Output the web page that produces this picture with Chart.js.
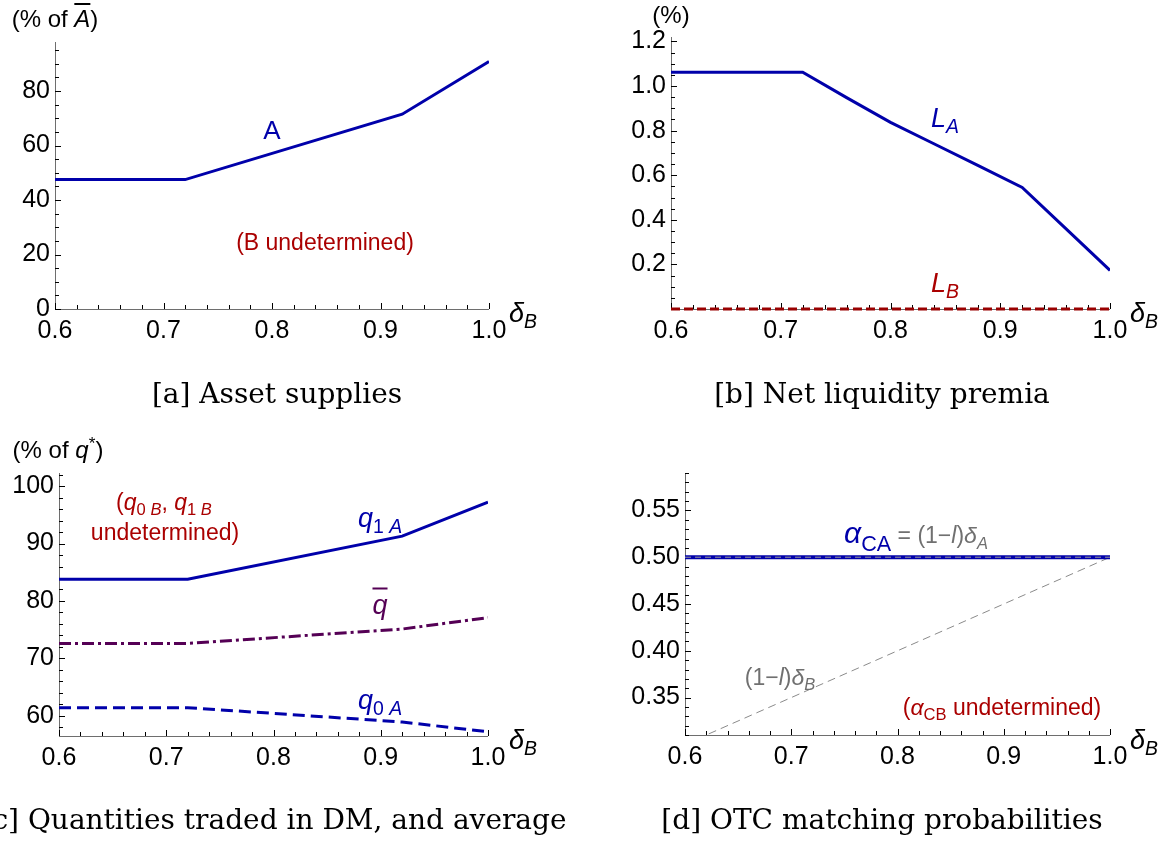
<!DOCTYPE html>
<html>
<head>
<meta charset="utf-8">
<script src="https://cdn.jsdelivr.net/npm/chart.js@4.4.1/dist/chart.umd.min.js"></script>
<style>
  html, body { margin: 0; padding: 0; background: #fff; width: 1167px; height: 844px; overflow: hidden; }
  canvas { position: absolute; left: 0; top: 0; }
  .lbl { position: absolute; transform: translate(-50%, -50%); white-space: nowrap;
         font-family: 'Liberation Sans', Arial, sans-serif; font-size: 25px; line-height: 1; color: #000; }
  .cap { position: absolute; transform: translate(-50%, -50%); white-space: nowrap;
         font-family: 'DejaVu Serif', serif; font-size: 28px; line-height: 1; color: #000; }
  .blue { color: #0000aa; }
  .red { color: #aa0000; }
  .gray { color: #707070; }
  .purple { color: #550055; }
  sub { font-size: 0.72em; vertical-align: -0.35em; line-height: 0; }
  sup { font-size: 0.72em; vertical-align: 0.5em; line-height: 0; }
  .bar { text-decoration: overline; }
</style>
</head>
<body>
<canvas id="panelA" width="1167" height="844"></canvas>
<canvas id="panelB" width="1167" height="844"></canvas>
<canvas id="panelC" width="1167" height="844"></canvas>
<canvas id="panelD" width="1167" height="844"></canvas>

<!-- [a] labels -->
<div class="lbl" style="left:55px;top:19px;font-size:24px">(% of <i class="bar">A</i>)</div>
<div class="lbl blue" style="left:272px;top:130px;font-size:26px">A</div>
<div class="lbl red" style="left:325px;top:242px;font-size:23px">(B undetermined)</div>
<div class="lbl" style="left:523px;top:313px;font-size:27px"><i>δ<sub>B</sub></i></div>

<!-- [b] labels -->
<div class="lbl" style="left:671px;top:15px;font-size:24px">(%)</div>
<div class="lbl blue" style="left:945px;top:118px;font-size:27px"><i>L<sub>A</sub></i></div>
<div class="lbl red" style="left:945px;top:283px;font-size:27px"><i>L<sub>B</sub></i></div>
<div class="lbl" style="left:1144px;top:313px;font-size:27px"><i>δ<sub>B</sub></i></div>

<!-- [c] labels -->
<div class="lbl" style="left:58px;top:450px;font-size:24px">(% of <i>q</i><sup>*</sup>)</div>
<div class="lbl red" style="left:164px;top:502px;font-size:23px">(<i>q</i><sub>0 <i>B</i></sub>, <i>q</i><sub>1 <i>B</i></sub></div>
<div class="lbl red" style="left:165px;top:532px;font-size:23px">undetermined)</div>
<div class="lbl blue" style="left:380px;top:518px;font-size:27px"><i>q</i><sub>1 <i>A</i></sub></div>
<div class="lbl purple" style="left:380px;top:605px;font-size:27px"><i class="bar">q</i></div>
<div class="lbl blue" style="left:380px;top:700px;font-size:27px"><i>q</i><sub>0 <i>A</i></sub></div>
<div class="lbl" style="left:523px;top:740px;font-size:27px"><i>δ<sub>B</sub></i></div>

<!-- [d] labels -->
<div class="lbl" style="left:916px;top:533px"><span class="blue" style="font-size:30px"><i>α</i><sub>CA</sub></span><span class="gray" style="font-size:23px"> = (1−<i>l</i>)<i>δ<sub>A</sub></i></span></div>
<div class="lbl gray" style="left:780px;top:677px;font-size:23px">(1−<i>l</i>)<i>δ<sub>B</sub></i></div>
<div class="lbl red" style="left:1002px;top:707px;font-size:23px">(<i>α</i><sub>CB</sub> undetermined)</div>
<div class="lbl" style="left:1144px;top:740px;font-size:27px"><i>δ<sub>B</sub></i></div>

<!-- captions -->
<div class="cap" style="left:277px;top:394px">[a] Asset supplies</div>
<div class="cap" style="left:882px;top:394px">[b] Net liquidity premia</div>
<div class="cap" style="left:274px;top:820px">[c] Quantities traded in DM, and average</div>
<div class="cap" style="left:882px;top:820px">[d] OTC matching probabilities</div>

<script>
// x values (delta_B) and series
const deltaB = [0.6, 0.72, 0.92, 1.0];
const supplyA = [47.5, 47.5, 71.5, 90.8];

const deltaBPremia = [0.6, 0.72, 0.76, 0.8, 0.84, 0.88, 0.92, 0.96, 1.0];
const premiumLA = [1.062, 1.062, 0.948, 0.837, 0.74, 0.643, 0.545, 0.359, 0.173];
const deltaBEnds = [0.6, 1.0];
const premiumLB = [0, 0];

const q1A = [83.8, 83.8, 91.3, 97.2];
const qBar = [72.6, 72.6, 75.1, 77.1];
const q0A = [61.4, 61.4, 58.9, 57.2];

const alphaCA = [0.5, 0.5];
const boundA = [0.5, 0.5];   // (1-l) delta_A
const boundB = [0.3, 0.5];   // (1-l) delta_B

// tick labels
const xTicks = [0.6, 0.7, 0.8, 0.9, 1.0];
const yTicksA = [0, 20, 40, 60, 80];
const yTicksB = [0.2, 0.4, 0.6, 0.8, 1.0, 1.2];
const yTicksC = [60, 70, 80, 90, 100];
const yTicksD = [0.35, 0.40, 0.45, 0.50, 0.55];

const W = 1167, H = 844, X_H = 40;

Chart.defaults.font.family = "'Liberation Sans', Arial, sans-serif";
Chart.defaults.font.size = 25;
Chart.defaults.color = '#000';

const toPoints = (xs, ys) => xs.map((x, i) => ({ x, y: ys[i] }));

function tickValues(min, max, step) {
  const out = [];
  const k0 = Math.ceil(min / step - 1e-6), k1 = Math.floor(max / step + 1e-6);
  for (let k = k0; k <= k1; k++) out.push(k * step);
  return out;
}
const isMajor = (v, major) => Math.abs(v / major - Math.round(v / major)) < 1e-6;

// Mathematica-style axes: gray lines, black inward ticks with minor ticks
const mmaAxes = {
  id: 'mmaAxes',
  beforeDatasetsDraw(chart, args, opts) {
    const { ctx, chartArea: a, scales: { x, y } } = chart;
    ctx.save();
    ctx.lineWidth = 1;
    ctx.strokeStyle = '#6e6e6e';
    ctx.beginPath();
    ctx.moveTo(a.left, Math.round(a.bottom) + 0.5);
    ctx.lineTo(a.right, Math.round(a.bottom) + 0.5);
    ctx.moveTo(Math.round(a.left) + 0.5, a.top);
    ctx.lineTo(Math.round(a.left) + 0.5, a.bottom);
    ctx.stroke();

    ctx.strokeStyle = '#000';
    ctx.beginPath();
    tickValues(x.min, x.max, opts.xMinor).forEach(v => {
      const px = Math.round(x.getPixelForValue(v)) + 0.5;
      const len = isMajor(v, opts.xMajor) ? 6 : 4;
      ctx.moveTo(px, a.bottom);
      ctx.lineTo(px, a.bottom - len);
    });
    tickValues(y.min, y.max, opts.yMinor).forEach(v => {
      const py = Math.round(y.getPixelForValue(v)) + 0.5;
      const len = isMajor(v, opts.yMajor) ? 6 : 4;
      ctx.moveTo(a.left, py);
      ctx.lineTo(a.left + len, py);
    });
    ctx.stroke();
    ctx.restore();
  }
};

function makePanel(id, area, yRange, yTicks, yDigits, yMajor, yMinor, datasets) {
  const yW = Math.min(60, area.left);
  return new Chart(document.getElementById(id), {
    type: 'line',
    data: { datasets },
    plugins: [mmaAxes],
    options: {
      responsive: false,
      animation: false,
      events: [],
      layout: {
        padding: {
          left: area.left - yW,
          top: area.top,
          right: W - area.right,
          bottom: H - area.bottom - X_H
        }
      },
      elements: { point: { radius: 0 }, line: { tension: 0 } },
      plugins: {
        legend: { display: false },
        tooltip: { enabled: false },
        mmaAxes: { xMajor: 0.1, xMinor: 0.02, yMajor, yMinor }
      },
      scales: {
        x: {
          type: 'linear', min: 0.6, max: 1.0,
          grid: { display: false, drawTicks: false },
          border: { display: false },
          afterBuildTicks: s => { s.ticks = xTicks.map(v => ({ value: v })); },
          afterFit: s => { s.height = X_H; },
          ticks: { padding: 7, maxRotation: 0, autoSkip: false, callback: v => Number(v).toFixed(1) }
        },
        y: {
          type: 'linear', min: yRange[0], max: yRange[1],
          grid: { display: false, drawTicks: false },
          border: { display: false },
          afterBuildTicks: s => { s.ticks = yTicks.map(v => ({ value: v })); },
          afterFit: s => { s.width = yW; },
          ticks: { padding: 5, autoSkip: false, callback: v => Number(v).toFixed(yDigits) }
        }
      }
    }
  });
}

// [a] Asset supplies
makePanel('panelA', { left: 55, right: 489, top: 42, bottom: 309 }, [0, 98], yTicksA, 0, 20, 5, [
  { data: toPoints(deltaB, supplyA), borderColor: '#0000aa', borderWidth: 3 }
]);

// [b] Net liquidity premia
makePanel('panelB', { left: 671, right: 1110, top: 37, bottom: 309 }, [0, 1.22], yTicksB, 1, 0.2, 0.05, [
  { data: toPoints(deltaBEnds, premiumLB), borderColor: '#990000', borderWidth: 3, borderDash: [9, 4], clip: false },
  { data: toPoints(deltaBPremia, premiumLA), borderColor: '#0000aa', borderWidth: 3 }
]);

// [c] Quantities traded in DM, and average
makePanel('panelC', { left: 59, right: 488, top: 473, bottom: 736 }, [56.46, 102.3], yTicksC, 0, 10, 2, [
  { data: toPoints(deltaB, q1A), borderColor: '#0000aa', borderWidth: 3 },
  { data: toPoints(deltaB, qBar), borderColor: '#550055', borderWidth: 3, borderDash: [12, 4, 3, 4] },
  { data: toPoints(deltaB, q0A), borderColor: '#0000aa', borderWidth: 3, borderDash: [12, 6] }
]);

// [d] OTC matching probabilities
makePanel('panelD', { left: 685, right: 1110, top: 473, bottom: 735 }, [0.31, 0.59], yTicksD, 2, 0.05, 0.01, [
  { data: toPoints(deltaBEnds, boundA), borderColor: '#9a9a9a', borderWidth: 1, borderDash: [6, 4] },
  { data: toPoints(deltaBEnds, alphaCA), borderColor: '#0000aa', borderWidth: 4 },
  { data: toPoints(deltaBEnds, boundB), borderColor: '#8a8a8a', borderWidth: 1, borderDash: [8, 5] }
]);
</script>
</body>
</html>
